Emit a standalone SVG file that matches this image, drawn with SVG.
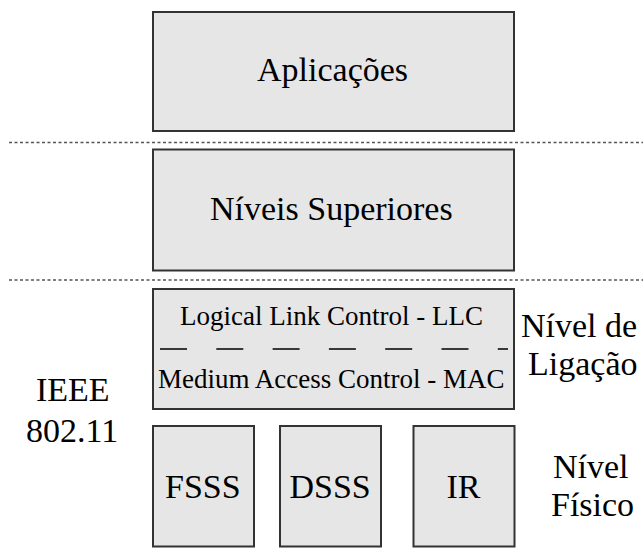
<svg xmlns="http://www.w3.org/2000/svg" width="643" height="551" viewBox="0 0 643 551">
  <style>
    .box { fill: #e6e6e6; stroke: #333333; stroke-width: 2; }
    .sep { stroke: #555555; stroke-width: 1.5; stroke-dasharray: 3 2.5; fill: none; }
  </style>
  <rect width="643" height="551" fill="#ffffff"/>
  <g id="separators">
    <line class="sep" x1="9" y1="142.5" x2="643" y2="142.5"/>
    <line class="sep" x1="9" y1="280" x2="643" y2="280"/>
  </g>
  <g id="aplicacoes">
    <rect class="box" x="153" y="12" width="361" height="119"/>
    <text x="257" y="81" font-size="34" font-family="'Liberation Serif'">Aplicações</text>
  </g>
  <g id="niveis-superiores">
    <rect class="box" x="153" y="149.5" width="361" height="121"/>
    <text x="210" y="220" font-size="34" font-family="'Liberation Serif'">Níveis Superiores</text>
  </g>
  <g id="ligacao-box">
    <rect class="box" x="153" y="289" width="361" height="120"/>
    <text x="180" y="325" font-size="27" font-family="'Liberation Serif'">Logical Link Control - LLC</text>
    <line x1="160" y1="349" x2="508" y2="349" stroke="#000" stroke-width="1.5" stroke-dasharray="27 29.3"/>
    <text x="158" y="388" font-size="27" font-family="'Liberation Serif'">Medium Access Control - MAC</text>
  </g>
  <g id="fsss">
    <rect class="box" x="153" y="426" width="101" height="120.5"/>
    <text x="165" y="498" font-size="34" font-family="'Liberation Serif'">FSSS</text>
  </g>
  <g id="dsss">
    <rect class="box" x="280" y="426" width="101" height="120.5"/>
    <text x="289.5" y="498" font-size="34" font-family="'Liberation Serif'">DSSS</text>
  </g>
  <g id="ir">
    <rect class="box" x="413.5" y="426" width="101" height="120.5"/>
    <text x="446.5" y="498" font-size="34" font-family="'Liberation Serif'">IR</text>
  </g>
  <g id="label-ieee">
    <text x="36" y="401" font-size="34" font-family="'Liberation Serif'">IEEE</text>
    <text x="26" y="442" font-size="34" font-family="'Liberation Serif'">802.11</text>
  </g>
  <g id="label-ligacao">
    <text x="521" y="337" font-size="34" font-family="'Liberation Serif'">Nível de</text>
    <text x="528" y="375" font-size="34" font-family="'Liberation Serif'">Ligação</text>
  </g>
  <g id="label-fisico">
    <text x="553" y="478" font-size="34" font-family="'Liberation Serif'">Nível</text>
    <text x="551" y="516" font-size="34" font-family="'Liberation Serif'">Físico</text>
  </g>
  <g id="connectors"></g>
</svg>
